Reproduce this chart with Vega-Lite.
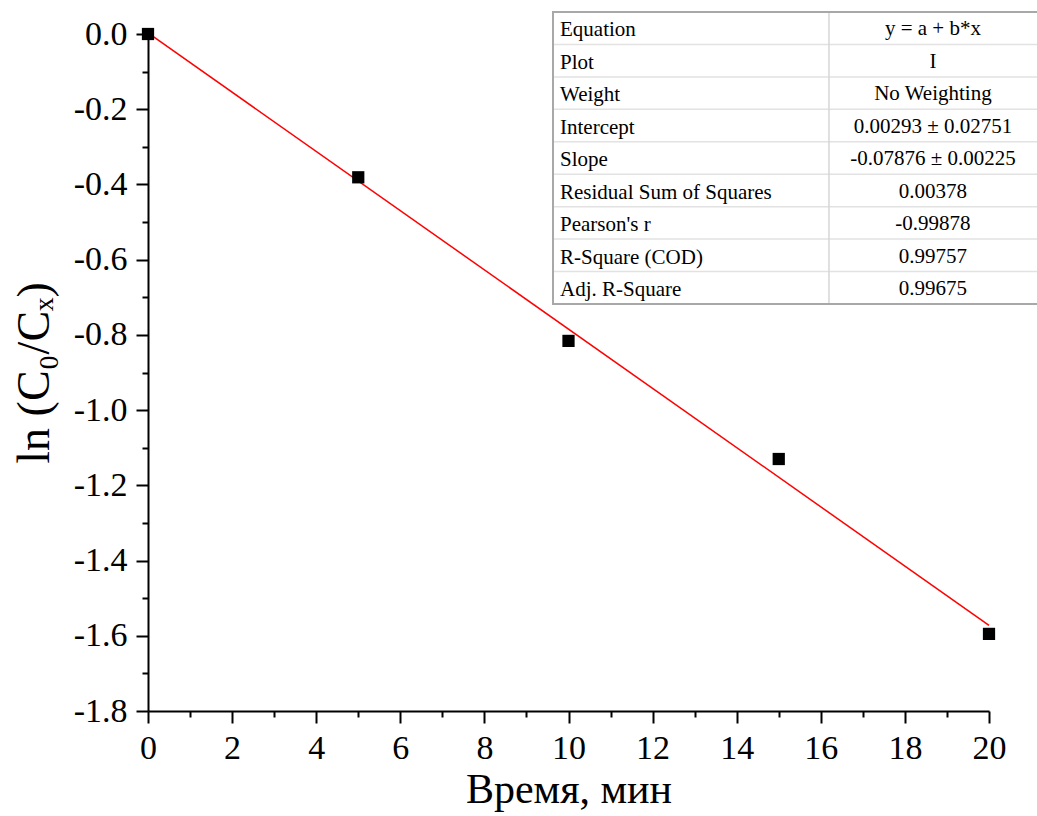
{
  "$schema": "https://vega.github.io/schema/vega-lite/v6.json",
  "width": 841,
  "height": 677,
  "autosize": "none",
  "padding": {"left": 148, "top": 34, "right": 48, "bottom": 105},
  "background": "white",
  "config": {
    "view": {"stroke": null},
    "font": "Liberation Serif",
    "axis": {
      "domainColor": "black", "domainWidth": 2, "tickColor": "black", "tickWidth": 2,
      "labelColor": "black", "titleColor": "black", "labelFont": "Liberation Serif",
      "titleFont": "Liberation Serif", "titleFontWeight": "normal", "grid": false
    }
  },
  "datasets": {
    "pts": [
      {"t": 0, "v": 0.0},
      {"t": 5, "v": -0.381},
      {"t": 10, "v": -0.816},
      {"t": 15, "v": -1.130},
      {"t": 20, "v": -1.595}
    ],
    "fit": [
      {"t": 0, "f": 0.00293},
      {"t": 20, "f": -1.57227}
    ],
    "table": [
      {"row": 1, "label": "Equation", "value": "y = a + b*x"},
      {"row": 2, "label": "Plot", "value": "I"},
      {"row": 3, "label": "Weight", "value": "No Weighting"},
      {"row": 4, "label": "Intercept", "value": "0.00293 ± 0.02751"},
      {"row": 5, "label": "Slope", "value": "-0.07876 ± 0.00225"},
      {"row": 6, "label": "Residual Sum of Squares", "value": "0.00378"},
      {"row": 7, "label": "Pearson's r", "value": "-0.99878"},
      {"row": 8, "label": "R-Square (COD)", "value": "0.99757"},
      {"row": 9, "label": "Adj. R-Square", "value": "0.99675"}
    ],
    "one": [{"k": 1}]
  },
  "layer": [
    {
      "data": {"name": "pts"},
      "mark": {"type": "point", "opacity": 0},
      "encoding": {
        "x": {"field": "t", "type": "quantitative",
          "scale": {"domain": [0, 20], "nice": false, "zero": false},
          "axis": {"orient": "bottom", "values": [1, 3, 5, 7, 9, 11, 13, 15, 17, 19], "labels": false, "tickSize": 6, "domain": false, "title": null}},
        "y": {"field": "v", "type": "quantitative",
          "scale": {"domain": [-1.8, 0], "nice": false, "zero": false},
          "axis": {"orient": "left", "values": [-0.1, -0.3, -0.5, -0.7, -0.9, -1.1, -1.3, -1.5, -1.7], "labels": false, "tickSize": 6, "domain": false, "title": null}}
      }
    },
    {
      "data": {"name": "fit"},
      "mark": {"type": "line", "color": "#ff0000", "strokeWidth": 1.5},
      "encoding": {
        "x": {"field": "t", "type": "quantitative", "scale": {"domain": [0, 20], "nice": false, "zero": false}, "axis": null},
        "y": {"field": "f", "type": "quantitative", "scale": {"domain": [-1.8, 0], "nice": false, "zero": false}, "axis": null}
      }
    },
    {
      "data": {"name": "pts"},
      "mark": {"type": "square", "size": 150, "color": "black", "opacity": 1, "filled": true},
      "encoding": {
        "x": {"field": "t", "type": "quantitative",
          "scale": {"domain": [0, 20], "nice": false, "zero": false},
          "axis": {"orient": "bottom", "values": [0, 2, 4, 6, 8, 10, 12, 14, 16, 18, 20], "tickSize": 12,
            "labelFontSize": 34, "labelPadding": 8, "labelFlush": false,
            "title": "Время, мин", "titleFontSize": 42, "titlePadding": 4}},
        "y": {"field": "v", "type": "quantitative",
          "scale": {"domain": [-1.8, 0], "nice": false, "zero": false},
          "axis": {"orient": "left", "values": [0, -0.2, -0.4, -0.6, -0.8, -1.0, -1.2, -1.4, -1.6, -1.8], "tickSize": 12,
            "labelFontSize": 34, "labelPadding": 9, "labelFlush": false,
            "labelExpr": "replace(format(datum.value, '.1f'), '\u2212', '-')",
            "title": "ln (C₀/Cₓ)", "titleFontSize": 46, "titlePadding": 15}}
      }
    },
    {
      "layer": [
        {
          "data": {"name": "one"},
          "mark": {"type": "rect", "fill": "white", "strokeWidth": 0},
          "encoding": {
            "x": {"datum": 0, "type": "quantitative", "scale": {"domain": [0, 1], "range": [405, 889]}, "axis": null},
            "x2": {"datum": 1.05},
            "y": {"datum": 0, "type": "quantitative", "scale": {"domain": [0, 9], "range": [-22, 270]}, "axis": null},
            "y2": {"datum": 9}
          }
        },
        {
          "data": {"name": "table"},
          "transform": [{"filter": "datum.row < 9"}],
          "mark": {"type": "rule", "color": "#e2e2e2", "strokeWidth": 1.5},
          "encoding": {
            "x": {"datum": 0, "type": "quantitative"},
            "x2": {"datum": 1.05},
            "y": {"field": "row", "type": "quantitative"}
          }
        },
        {
          "data": {"name": "one"},
          "mark": {"type": "rule", "color": "#d6d6d6", "strokeWidth": 1.5},
          "encoding": {
            "x": {"datum": 0.5702, "type": "quantitative"},
            "y": {"datum": 0, "type": "quantitative"},
            "y2": {"datum": 9}
          }
        },
        {
          "data": {"name": "one"},
          "mark": {"type": "rect", "fill": null, "stroke": "#a8a8a8", "strokeWidth": 2},
          "encoding": {
            "x": {"datum": 0, "type": "quantitative"},
            "x2": {"datum": 1.05},
            "y": {"datum": 0, "type": "quantitative"},
            "y2": {"datum": 9}
          }
        },
        {
          "data": {"name": "table"},
          "mark": {"type": "text", "align": "left", "baseline": "alphabetic", "dx": 7, "dy": -8, "fontSize": 21, "font": "Liberation Serif", "color": "black"},
          "encoding": {
            "x": {"datum": 0, "type": "quantitative"},
            "y": {"field": "row", "type": "quantitative"},
            "text": {"field": "label"}
          }
        },
        {
          "data": {"name": "table"},
          "mark": {"type": "text", "align": "center", "baseline": "alphabetic", "dy": -9, "fontSize": 21, "font": "Liberation Serif", "color": "black"},
          "encoding": {
            "x": {"datum": 0.785, "type": "quantitative"},
            "y": {"field": "row", "type": "quantitative"},
            "text": {"field": "value"}
          }
        }
      ]
    }
  ],
  "resolve": {
    "scale": {"x": "independent", "y": "independent"},
    "axis": {"x": "independent", "y": "independent"}
  }
}
